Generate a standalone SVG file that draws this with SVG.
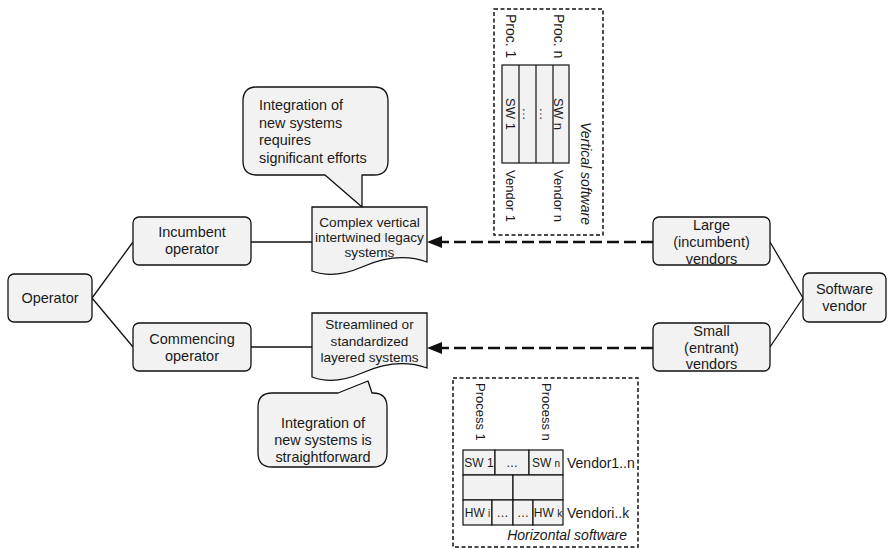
<svg xmlns="http://www.w3.org/2000/svg" width="888" height="549" viewBox="0 0 888 549">
  <defs>
    <style>
      text { font-family: "Liberation Sans", Arial, sans-serif; fill: #1a1a1a; }
      .node { fill: #f2f2f2; stroke: #111; stroke-width: 1.3; }
      .lbl { font-size: 14.5px; text-anchor: middle; }
      .doc { font-size: 13.6px; text-anchor: middle; }
      .call { fill: #f2f2f2; stroke: #111; stroke-width: 1.3; stroke-linejoin: round; }
      .ctext { font-size: 14.4px; }
      .frame { fill: none; stroke: #111; stroke-width: 1.5; stroke-dasharray: 4 2.5; }
      .cell { fill: #f2f2f2; stroke: #111; stroke-width: 1.2; }
      .rot { font-size: 13px; }
      .proc { font-size: 14px; }
      .small { font-size: 12px; }
      .ital { font-style: italic; font-size: 14px; }
      .edge { fill: none; stroke: #111; stroke-width: 1.3; }
      .dash { fill: none; stroke: #111; stroke-width: 2.5; stroke-dasharray: 12 5; }
    </style>
  </defs>

  <rect width="888" height="549" fill="#ffffff"/>

  <!-- connectors -->
  <g id="connectors">
    <line class="edge" x1="92" y1="298" x2="133" y2="242"/>
    <line class="edge" x1="92" y1="298" x2="133" y2="347"/>
    <line class="edge" x1="251" y1="242" x2="312" y2="242"/>
    <line class="edge" x1="251" y1="347" x2="312" y2="347"/>
    <line class="edge" x1="770" y1="242" x2="803" y2="298"/>
    <line class="edge" x1="770" y1="347" x2="803" y2="298"/>
    <line class="dash" x1="653" y1="242" x2="433" y2="242"/>
    <line class="dash" x1="653" y1="348" x2="433" y2="348"/>
    <path d="M427,242 L442,236 L442,248 Z" fill="#111"/>
    <path d="M427,348 L442,342 L442,354 Z" fill="#111"/>
  </g>

  <!-- operator side -->
  <g id="operator">
    <rect class="node" x="8" y="274" width="84" height="48" rx="6"/>
    <text class="lbl" x="50" y="303">Operator</text>
  </g>
  <g id="incumbent-operator">
    <rect class="node" x="133" y="217" width="118" height="48" rx="6"/>
    <text class="lbl" x="192" y="237">Incumbent</text>
    <text class="lbl" x="192" y="253.5">operator</text>
  </g>
  <g id="commencing-operator">
    <rect class="node" x="133" y="323" width="118" height="48" rx="6"/>
    <text class="lbl" x="192" y="344">Commencing</text>
    <text class="lbl" x="192" y="360.5">operator</text>
  </g>

  <!-- legacy systems document -->
  <g id="legacy-systems">
    <path class="node" d="M312,207 H427 V262 C402,253 378,260 362,267 C346,274 328,277 312,271 Z"/>
    <text class="doc" x="369.5" y="226.5">Complex vertical</text>
    <text class="doc" x="369.5" y="241.5">intertwined legacy</text>
    <text class="doc" x="369.5" y="257">systems</text>
  </g>

  <!-- layered systems document -->
  <g id="layered-systems">
    <path class="node" d="M312,313 H427 V368 C402,359 378,366 362,373 C346,380 328,383 312,377 Z"/>
    <text class="doc" x="369.5" y="328.5">Streamlined or</text>
    <text class="doc" x="369.5" y="345.5">standardized</text>
    <text class="doc" x="369.5" y="362">layered systems</text>
  </g>

  <!-- callout: significant efforts -->
  <g id="callout-efforts">
    <path class="call" d="M257,87 H374 Q388,87 388,101 V161 Q388,175 374,175 H362 V207 L325,175 H257 Q243,175 243,161 V101 Q243,87 257,87 Z"/>
    <text class="ctext" x="259" y="110">Integration of</text>
    <text class="ctext" x="259" y="127.5">new systems</text>
    <text class="ctext" x="259" y="145">requires</text>
    <text class="ctext" x="259" y="162.5">significant efforts</text>
  </g>

  <!-- callout: straightforward -->
  <g id="callout-straightforward">
    <path class="call" d="M272,393 H338 L368,381 L372,393 H373 Q387,393 387,407 V453 Q387,467 373,467 H272 Q258,467 258,453 V407 Q258,393 272,393 Z"/>
    <text class="ctext" x="323" y="428" text-anchor="middle">Integration of</text>
    <text class="ctext" x="323" y="445" text-anchor="middle">new systems is</text>
    <text class="ctext" x="323" y="462" text-anchor="middle">straightforward</text>
  </g>

  <!-- vendor side -->
  <g id="large-vendors">
    <rect class="node" x="653" y="217" width="117" height="48" rx="6"/>
    <text class="lbl" x="711.5" y="230">Large</text>
    <text class="lbl" x="711.5" y="247">(incumbent)</text>
    <text class="lbl" x="711.5" y="263.5">vendors</text>
  </g>
  <g id="small-vendors">
    <rect class="node" x="653" y="323" width="117" height="48" rx="6"/>
    <text class="lbl" x="711.5" y="336">Small</text>
    <text class="lbl" x="711.5" y="352.5">(entrant)</text>
    <text class="lbl" x="711.5" y="369">vendors</text>
  </g>
  <g id="software-vendor">
    <rect class="node" x="803" y="273" width="83" height="49" rx="6"/>
    <text class="lbl" x="844.5" y="294">Software</text>
    <text class="lbl" x="844.5" y="311">vendor</text>
  </g>

  <!-- vertical software stack -->
  <g id="vertical-software">
    <rect class="frame" x="494" y="9" width="109" height="226"/>
    <rect class="cell" x="502" y="65" width="67" height="98"/>
    <line class="cell" x1="519" y1="65" x2="519" y2="163"/>
    <line class="cell" x1="536" y1="65" x2="536" y2="163"/>
    <line class="cell" x1="553" y1="65" x2="553" y2="163"/>
    <text class="proc" transform="translate(505.5,14) rotate(90)">Proc. 1</text>
    <text class="proc" transform="translate(553.5,14) rotate(90)">Proc. n</text>
    <text class="rot" text-anchor="middle" transform="translate(506,114) rotate(90)">SW 1</text>
    <text class="rot" text-anchor="middle" transform="translate(523,114) rotate(90)">…</text>
    <text class="rot" text-anchor="middle" transform="translate(540,114) rotate(90)">…</text>
    <text class="rot" text-anchor="middle" transform="translate(554,114) rotate(90)">SW n</text>
    <text class="rot" transform="translate(506,170) rotate(90)">Vendor 1</text>
    <text class="rot" transform="translate(554,170) rotate(90)">Vendor n</text>
    <text class="ital" transform="translate(580.5,122) rotate(90)">Vertical software</text>
  </g>

  <!-- horizontal software stack -->
  <g id="horizontal-software">
    <rect class="frame" x="453" y="378" width="185" height="169"/>
    <text class="rot" transform="translate(476,383) rotate(90)">Process 1</text>
    <text class="rot" transform="translate(542,383) rotate(90)">Process n</text>
    <rect class="cell" x="463" y="450" width="32" height="25"/>
    <rect class="cell" x="495" y="450" width="34" height="25"/>
    <rect class="cell" x="529" y="450" width="34" height="25"/>
    <rect class="cell" x="463" y="475" width="50" height="25"/>
    <rect class="cell" x="513" y="475" width="50" height="25"/>
    <rect class="cell" x="463" y="500" width="29" height="25"/>
    <rect class="cell" x="492" y="500" width="21" height="25"/>
    <rect class="cell" x="513" y="500" width="20" height="25"/>
    <rect class="cell" x="533" y="500" width="30" height="25"/>
    <text class="small" x="479" y="467" text-anchor="middle">SW 1</text>
    <text class="small" x="512" y="467" text-anchor="middle">…</text>
    <text class="small" x="546" y="467" text-anchor="middle">SW <tspan font-size="10">n</tspan></text>
    <text class="small" x="477.5" y="517" text-anchor="middle">HW <tspan font-size="10">i</tspan></text>
    <text class="small" x="502.5" y="517" text-anchor="middle">…</text>
    <text class="small" x="523" y="517" text-anchor="middle">…</text>
    <text class="small" x="548" y="517" text-anchor="middle">HW <tspan font-size="10">k</tspan></text>
    <text class="rot" style="font-size:14px" x="567" y="468">Vendor1..n</text>
    <text class="rot" style="font-size:14px" x="567" y="518">Vendori..k</text>
    <text class="ital" x="627" y="540" text-anchor="end">Horizontal software</text>
  </g>
</svg>
